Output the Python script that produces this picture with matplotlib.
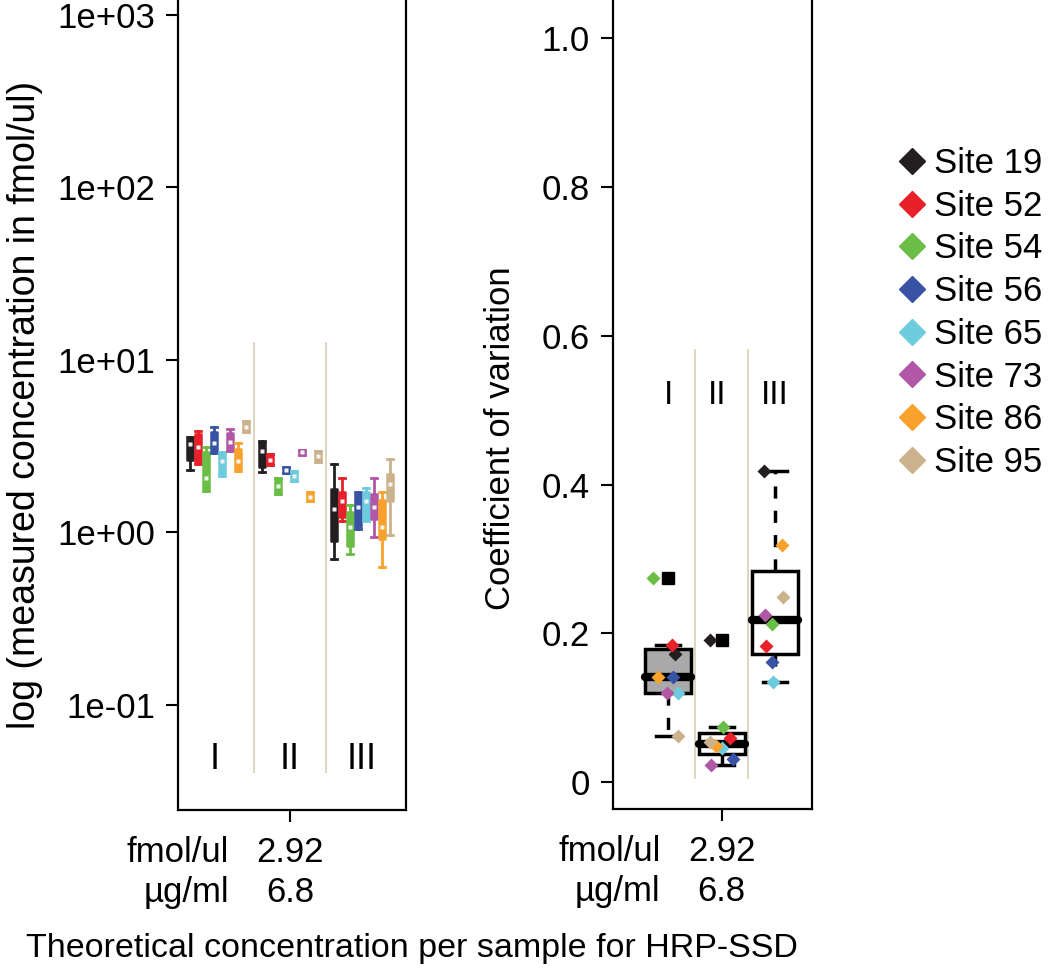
import numpy as np
import matplotlib.pyplot as plt
from matplotlib.lines import Line2D

plt.rcParams['font.family'] = ['Liberation Sans', 'DejaVu Sans']

sites = ["Site 19", "Site 52", "Site 54", "Site 56", "Site 65", "Site 73", "Site 86", "Site 95"]
site_colors = ["#231f20", "#e8202a", "#6abd45", "#3953a4", "#6ccbdc", "#b058a6", "#f8a22d", "#cbb28c"]
groups = ["I", "II", "III"]
conc_fmol = "2.92"
conc_ug = "6.8"

# measured concentration (fmol/ul) box stats, one row per group, one value per site
conc_low = [
    [2.29, 2.48, 1.73, 2.87, 2.11, 2.95, 2.26, 3.80],
    [2.23, 2.45, 1.66, 2.20, 1.98, 2.80, 1.51, 2.55],
    [0.70, 1.16, 0.75, 1.04, 1.16, 0.94, 0.63, 0.97],
]
conc_q1 = [
    [2.62, 2.55, 1.78, 2.95, 2.17, 2.99, 2.32, 3.80],
    [2.38, 2.45, 1.66, 2.20, 1.98, 2.80, 1.51, 2.55],
    [0.89, 1.22, 0.83, 1.07, 1.19, 1.19, 0.91, 1.51],
]
conc_med = [
    [3.24, 3.11, 2.08, 3.28, 2.58, 3.33, 2.58, 4.06],
    [2.95, 2.62, 1.85, 2.29, 2.11, 2.91, 1.60, 2.76],
    [1.36, 1.51, 1.08, 1.41, 1.51, 1.40, 1.07, 1.90],
]
conc_q3 = [
    [3.46, 3.70, 2.91, 3.80, 2.83, 3.75, 3.03, 4.40],
    [3.33, 2.83, 2.06, 2.38, 2.26, 2.99, 1.71, 2.95],
    [1.78, 1.71, 1.32, 1.66, 1.71, 1.66, 1.55, 2.17],
]
conc_high = [
    [3.55, 3.85, 3.11, 4.06, 2.91, 3.96, 3.28, 4.40],
    [3.37, 2.83, 2.06, 2.38, 2.26, 2.99, 1.71, 2.95],
    [2.48, 2.08, 1.45, 1.71, 1.82, 2.08, 1.71, 2.65],
]

# coefficient of variation per site, one row per group
cv = [
    [0.172, 0.185, 0.275, 0.141, 0.120, 0.120, 0.142, 0.062],
    [0.191, 0.059, 0.074, 0.031, 0.046, 0.023, 0.048, 0.054],
    [0.418, 0.183, 0.212, 0.161, 0.134, 0.224, 0.319, 0.249],
]

# horizontal jitter of the cv points (styling only)
cv_jitter = [
    [0.13, 0.07, -0.28, 0.09, 0.19, -0.02, -0.19, 0.19],
    [-0.22, 0.15, 0.02, 0.22, 0.0, -0.19, -0.11, -0.22],
    [-0.21, -0.17, -0.06, -0.06, -0.04, -0.19, 0.13, 0.15],
]

FS = 25
sep_color = "#d9d2bd"


def tukey_stats(vals):
    # R style boxplot stats (hinges, 1.5 IQR whiskers)
    v = np.sort(np.asarray(vals))
    n = len(v)
    half = (n + 1) // 2
    q1, q3 = np.median(v[:half]), np.median(v[n - half:])
    iqr = q3 - q1
    lo, hi = q1 - 1.5 * iqr, q3 + 1.5 * iqr
    inside = v[(v >= lo) & (v <= hi)]
    return dict(med=np.median(v), q1=q1, q3=q3, whislo=inside.min(), whishi=inside.max(),
                fliers=v[(v < lo) | (v > hi)])


def style_axes(ax):
    ax.spines['top'].set_visible(False)
    for s in ['left', 'right', 'bottom']:
        ax.spines[s].set_linewidth(1.6)
    ax.tick_params(axis='both', which='major', length=8.5, width=1.5, pad=8, labelsize=FS)
    ax.tick_params(axis='x', pad=10)
    ax.tick_params(axis='y', which='minor', left=False)
    ax.set_xticks([2])
    ax.set_xticklabels([conc_fmol + "\n" + conc_ug], linespacing=1.3)
    ax.annotate("fmol/ul\nµg/ml", xy=(2, 0), xycoords=('data', 'axes fraction'),
                xytext=(-44, -18.5), textcoords='offset points', ha='right', va='top',
                multialignment='right', fontsize=FS, linespacing=1.3)


fig = plt.figure(figsize=(10.5, 9.69), dpi=100)

# ---- left panel: measured concentration
ax1 = fig.add_axes([178 / 1050, 1 - 810 / 969, 228 / 1050, 810 / 969])
ax1.set_yscale('log')
ax1.set_ylim(10 ** -1.61, 10 ** 3.087)
ax1.set_xlim(0.444, 3.61)

for g in range(3):
    for i, c in enumerate(site_colors):
        pos = g + 1 + (i - 3.5) * 0.111
        st = dict(med=conc_med[g][i], q1=conc_q1[g][i], q3=conc_q3[g][i],
                  whislo=conc_low[g][i], whishi=conc_high[g][i], fliers=[])
        ax1.bxp([st], positions=[pos], widths=0.085, capwidths=0.08, patch_artist=True,
                showfliers=False, manage_ticks=False,
                boxprops=dict(facecolor=c, edgecolor=c, linewidth=1.8, joinstyle='round'),
                whiskerprops=dict(color=c, linewidth=2),
                capprops=dict(color=c, linewidth=2),
                medianprops=dict(linewidth=0))
        ax1.plot([pos], [conc_med[g][i]], marker='s', ms=2.2, color='#f4f4f4', mec='none', zorder=5)

for xs in [1.5, 2.5]:
    ax1.plot([xs, xs], [0.0406, 12.6], color=sep_color, lw=1.3, zorder=0)
for g, lab in enumerate(groups):
    ax1.text(g + 1 - 0.05 * (g == 0), 0.0483, lab, ha='center', va='center', fontsize=26)

ax1.set_yticks([1e-1, 1, 10, 100, 1000])
ax1.set_yticklabels(["1e-01", "1e+00", "1e+01", "1e+02", "1e+03"])
ax1.yaxis.set_minor_locator(plt.NullLocator())
style_axes(ax1)

# ---- right panel: coefficient of variation
ax2 = fig.add_axes([613 / 1050, 1 - 809 / 969, 199 / 1050, 809 / 969])
ax2.set_ylim(-0.036, 1.051)
ax2.set_xlim(-0.028, 3.69)

box_faces = ["#a9a9a9", "white", "white"]
for g in range(3):
    st = tukey_stats(cv[g])
    ax2.bxp([st], positions=[g + 1], widths=0.86, capwidths=0.45, patch_artist=True,
            manage_ticks=False,
            boxprops=dict(facecolor=box_faces[g], edgecolor='black', linewidth=2.5),
            whiskerprops=dict(color='black', linewidth=2.5, linestyle=(0, (3.5, 3.5))),
            capprops=dict(color='black', linewidth=2.5),
            medianprops=dict(color='black', linewidth=6, solid_capstyle='round'),
            flierprops=dict(marker='s', markerfacecolor='black', markeredgecolor='black',
                            markersize=9))
    for i, c in enumerate(site_colors):
        ax2.plot([g + 1 + cv_jitter[g][i]], [cv[g][i]], marker='D', ms=7,
                 color=c, mec='none', linestyle='None', zorder=6)

for xs in [1.5, 2.5]:
    ax2.plot([xs, xs], [0.005, 0.581], color=sep_color, lw=1.3, zorder=0)
for g, lab in enumerate(groups):
    ax2.text(g + 1 - 0.09 * (g == 1), 0.52, lab, ha='center', va='center', fontsize=24)

ax2.set_yticks([0, 0.2, 0.4, 0.6, 0.8, 1.0])
ax2.set_yticklabels(["0", "0.2", "0.4", "0.6", "0.8", "1.0"])
style_axes(ax2)

# axis titles
fig.text(25 / 1050, 1 - 405 / 969, "log (measured concentration in fmol/ul)",
         rotation=90, ha='center', va='center', fontsize=27)
fig.text(500 / 1050, 1 - 438 / 969, "Coefficient of variation",
         rotation=90, ha='center', va='center', fontsize=25)
fig.text(412 / 1050, 1 - 957 / 969, "Theoretical concentration per sample for HRP-SSD",
         ha='center', va='baseline', fontsize=24.5)

# legend
handles = [Line2D([], [], marker='D', color=c, linestyle='None', markersize=13) for c in site_colors]
fig.legend(handles, sites, loc='upper left', bbox_to_anchor=(898 / 1050, 1 - 147 / 969),
           frameon=False, fontsize=25, handlelength=0.8, handletextpad=0.25,
           labelspacing=0.28, borderpad=0, borderaxespad=0)

fig.savefig("out.png", dpi=100)
